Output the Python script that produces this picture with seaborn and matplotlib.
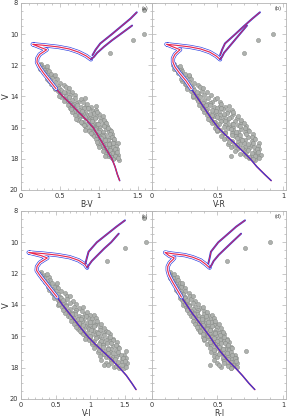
#!/usr/bin/env python3
"""Four-panel colour-magnitude diagram: V against B-V, V-R, V-I and R-I."""

import matplotlib
matplotlib.use("Agg")
import matplotlib.pyplot as plt
import matplotlib.patheffects as pe
from matplotlib.ticker import MultipleLocator, FuncFormatter
import pandas as pd
import seaborn as sns

# ---- observed stars (V magnitude shared, one colour list per panel) ----
V_star = [
    11.92, 12.00, 12.08, 12.15, 12.22, 12.30, 12.38, 12.45,
    12.52, 12.58, 12.64, 12.70, 12.77, 12.84, 12.90, 12.97,
    13.02, 13.08, 13.13, 13.19, 13.25, 13.31, 13.37, 13.42, 13.48,
    13.53, 13.58, 13.63, 13.68, 13.73, 13.78, 13.83, 13.88, 13.93, 13.98,
    14.02, 14.06, 14.10, 14.15, 14.19, 14.24, 14.28, 14.33, 14.37, 14.41, 14.45, 14.49,
    14.52, 14.55, 14.59, 14.62, 14.66, 14.69, 14.73, 14.76, 14.80, 14.83, 14.87, 14.90, 14.94, 14.97,
    15.02, 15.05, 15.08, 15.12, 15.15, 15.18, 15.21, 15.25, 15.28, 15.31, 15.35, 15.38, 15.41, 15.45, 15.48,
    15.52, 15.55, 15.58, 15.62, 15.65, 15.68, 15.71, 15.75, 15.78, 15.81, 15.85, 15.88, 15.91, 15.95, 15.98,
    16.02, 16.05, 16.08, 16.12, 16.15, 16.18, 16.21, 16.25, 16.28, 16.31, 16.35, 16.38, 16.41, 16.45, 16.48,
    16.52, 16.56, 16.60, 16.64, 16.68, 16.72, 16.76, 16.80, 16.84, 16.88, 16.92, 16.96, 16.99,
    17.03, 17.07, 17.11, 17.15, 17.19, 17.23, 17.27, 17.31, 17.35, 17.39, 17.43, 17.47,
    17.53, 17.58, 17.63, 17.68, 17.73, 17.78, 17.84, 17.90, 17.97, 18.05,
    8.48, 9.96, 10.39, 11.20,
    # second pass through the band
    12.05, 12.26, 12.60, 12.88, 13.22, 13.45, 13.70, 13.95, 14.12, 14.30,
    14.47, 14.57, 14.64, 14.71, 14.79, 14.85, 14.92, 15.00, 15.10, 15.16,
    15.23, 15.30, 15.37, 15.43, 15.50, 15.57, 15.63, 15.70, 15.77, 15.83,
    15.90, 15.97, 16.03, 16.10, 16.17, 16.23, 16.30, 16.36, 16.43, 16.50,
    16.58, 16.66, 16.74, 16.82, 16.90, 16.98, 17.05, 17.13, 17.21, 17.29,
    17.37, 17.45, 17.55, 17.62, 17.70, 17.80, 17.88, 17.95, 18.00, 17.85,
]
BV_star = [
    0.26, 0.24, 0.30, 0.27, 0.34, 0.29, 0.36, 0.31,
    0.30, 0.38, 0.33, 0.42, 0.35, 0.40, 0.46, 0.37,
    0.36, 0.44, 0.50, 0.40, 0.55, 0.47, 0.42, 0.58, 0.49,
    0.44, 0.52, 0.60, 0.48, 0.66, 0.56, 0.50, 0.63, 0.70, 0.58,
    0.52, 0.62, 0.70, 0.56, 0.77, 0.66, 0.59, 0.74, 0.80, 0.63, 0.71, 0.68,
    0.60, 0.72, 0.84, 0.66, 0.90, 0.77, 0.63, 0.81, 0.70, 0.87, 0.75, 0.93, 0.68, 0.83,
    0.66, 0.80, 0.94, 0.72, 1.00, 0.86, 0.70, 0.90, 0.78, 0.97, 0.84, 1.03, 0.75, 0.92, 0.88,
    0.74, 0.88, 1.02, 0.80, 1.08, 0.94, 0.78, 0.98, 0.85, 1.05, 0.92, 1.11, 0.83, 1.00, 0.96,
    0.84, 0.97, 1.10, 0.89, 1.15, 1.02, 0.87, 1.06, 0.93, 1.13, 1.00, 1.17, 0.91, 1.08, 1.04,
    0.94, 1.05, 1.15, 0.99, 1.19, 1.09, 0.97, 1.12, 1.02, 1.20, 1.07, 1.25, 1.14,
    0.99, 1.09, 1.18, 1.03, 1.22, 1.13, 1.01, 1.16, 1.07, 1.24, 1.11, 1.20,
    1.06, 1.15, 1.22, 1.10, 1.25, 1.18, 1.12, 1.24, 1.20, 1.26,
    1.58, 1.58, 1.44, 1.14,
    0.33, 0.25, 0.44, 0.33, 0.38, 0.62, 0.55, 0.49, 0.82, 0.55,
    0.85, 0.65, 0.96, 0.86, 0.64, 0.97, 0.79, 0.98, 0.89, 0.76,
    1.05, 0.82, 0.95, 0.71, 1.07, 0.91, 0.77, 1.10, 0.99, 0.81,
    1.07, 0.90, 1.12, 0.95, 0.82, 1.16, 1.01, 0.90, 1.14, 0.98,
    1.17, 1.03, 1.20, 1.08, 0.98, 1.18, 1.13, 1.05, 1.19, 1.09,
    1.21, 1.14, 1.23, 1.17, 1.13, 1.21, 1.16, 1.25, 1.19, 1.08,
]
VR_star = [
    0.17, 0.16, 0.20, 0.18, 0.22, 0.19, 0.23, 0.21,
    0.20, 0.25, 0.22, 0.28, 0.23, 0.26, 0.30, 0.24,
    0.23, 0.28, 0.32, 0.25, 0.35, 0.30, 0.27, 0.37, 0.31,
    0.27, 0.32, 0.38, 0.30, 0.42, 0.35, 0.31, 0.40, 0.45, 0.36,
    0.31, 0.37, 0.43, 0.34, 0.48, 0.40, 0.36, 0.46, 0.52, 0.39, 0.44, 0.42,
    0.36, 0.44, 0.52, 0.40, 0.56, 0.47, 0.38, 0.50, 0.42, 0.54, 0.46, 0.58, 0.41, 0.51,
    0.40, 0.48, 0.57, 0.44, 0.62, 0.52, 0.42, 0.55, 0.47, 0.60, 0.51, 0.65, 0.45, 0.58, 0.54,
    0.44, 0.53, 0.63, 0.48, 0.68, 0.57, 0.46, 0.61, 0.51, 0.66, 0.56, 0.72, 0.50, 0.62, 0.59,
    0.48, 0.58, 0.68, 0.52, 0.73, 0.62, 0.50, 0.66, 0.56, 0.71, 0.61, 0.77, 0.54, 0.67, 0.64,
    0.53, 0.63, 0.73, 0.57, 0.78, 0.68, 0.55, 0.71, 0.61, 0.76, 0.66, 0.82, 0.70,
    0.58, 0.67, 0.76, 0.62, 0.81, 0.71, 0.60, 0.74, 0.65, 0.82, 0.70, 0.79,
    0.63, 0.72, 0.80, 0.67, 0.83, 0.76, 0.60, 0.81, 0.74, 0.79,
    None, 0.926, 0.81, 0.70,
    0.21, 0.17, 0.28, 0.22, 0.26, 0.39, 0.34, 0.31, 0.50, 0.35,
    0.53, 0.41, 0.59, 0.53, 0.39, 0.61, 0.49, 0.62, 0.55, 0.46,
    0.66, 0.50, 0.59, 0.43, 0.68, 0.56, 0.47, 0.70, 0.62, 0.49,
    0.67, 0.55, 0.71, 0.60, 0.50, 0.74, 0.64, 0.56, 0.72, 0.61,
    0.76, 0.65, 0.79, 0.69, 0.59, 0.77, 0.73, 0.65, 0.78, 0.69,
    0.80, 0.73, 0.81, 0.76, 0.70, 0.79, 0.74, 0.82, 0.77, 0.72,
]
VI_star = [
    0.29, 0.27, 0.34, 0.31, 0.40, 0.33, 0.42, 0.37,
    0.35, 0.45, 0.39, 0.50, 0.41, 0.48, 0.54, 0.44,
    0.41, 0.50, 0.57, 0.46, 0.63, 0.54, 0.48, 0.66, 0.56,
    0.48, 0.57, 0.67, 0.53, 0.75, 0.62, 0.55, 0.71, 0.79, 0.65,
    0.54, 0.65, 0.76, 0.59, 0.84, 0.71, 0.62, 0.80, 0.88, 0.68, 0.78, 0.74,
    0.64, 0.78, 0.92, 0.71, 0.99, 0.84, 0.68, 0.88, 0.76, 0.96, 0.82, 1.02, 0.73, 0.90,
    0.72, 0.88, 1.03, 0.80, 1.10, 0.95, 0.77, 0.99, 0.85, 1.07, 0.92, 1.14, 0.82, 1.02, 0.97,
    0.82, 0.98, 1.14, 0.89, 1.22, 1.05, 0.86, 1.10, 0.95, 1.19, 1.02, 1.28, 0.92, 1.13, 1.08,
    0.94, 1.10, 1.26, 1.00, 1.33, 1.17, 0.98, 1.22, 1.06, 1.30, 1.14, 1.38, 1.03, 1.24, 1.19,
    1.02, 1.18, 1.33, 1.08, 1.40, 1.25, 1.06, 1.30, 1.14, 1.37, 1.21, 1.52, 1.28,
    1.11, 1.26, 1.40, 1.17, 1.48, 1.33, 1.14, 1.37, 1.22, 1.51, 1.30, 1.45,
    1.15, 1.30, 1.45, 1.22, 1.53, 1.38, 1.20, 1.50, 1.34, 1.48,
    1.77, 1.80, 1.50, 1.245,
    0.38, 0.30, 0.52, 0.39, 0.45, 0.70, 0.61, 0.55, 0.90, 0.60,
    0.95, 0.73, 1.06, 0.94, 0.70, 1.08, 0.87, 1.09, 0.99, 0.83,
    1.16, 0.90, 1.05, 0.79, 1.20, 1.01, 0.85, 1.25, 1.11, 0.89,
    1.20, 1.00, 1.28, 1.08, 0.93, 1.33, 1.16, 1.03, 1.30, 1.12,
    1.37, 1.19, 1.42, 1.26, 1.12, 1.40, 1.33, 1.20, 1.44, 1.27,
    1.47, 1.36, 1.50, 1.40, 1.30, 1.46, 1.37, 1.52, 1.42, 1.26,
]
RI_star = [
    0.14, 0.13, 0.16, 0.15, 0.19, 0.16, 0.20, 0.17,
    0.16, 0.21, 0.18, 0.23, 0.19, 0.22, 0.25, 0.20,
    0.18, 0.22, 0.25, 0.20, 0.28, 0.24, 0.21, 0.29, 0.25,
    0.21, 0.25, 0.30, 0.23, 0.33, 0.27, 0.24, 0.31, 0.35, 0.28,
    0.24, 0.28, 0.33, 0.26, 0.37, 0.31, 0.27, 0.35, 0.40, 0.30, 0.34, 0.32,
    0.28, 0.34, 0.40, 0.31, 0.43, 0.36, 0.30, 0.38, 0.33, 0.42, 0.35, 0.45, 0.32, 0.39,
    0.31, 0.38, 0.45, 0.35, 0.48, 0.41, 0.33, 0.43, 0.37, 0.47, 0.40, 0.50, 0.36, 0.44, 0.42,
    0.35, 0.42, 0.49, 0.38, 0.53, 0.45, 0.37, 0.48, 0.41, 0.51, 0.44, 0.55, 0.40, 0.49, 0.46,
    0.39, 0.46, 0.53, 0.42, 0.57, 0.49, 0.40, 0.52, 0.45, 0.55, 0.48, 0.59, 0.44, 0.53, 0.50,
    0.42, 0.50, 0.57, 0.45, 0.60, 0.53, 0.44, 0.56, 0.48, 0.59, 0.52, 0.72, 0.55,
    0.45, 0.52, 0.59, 0.48, 0.63, 0.55, 0.47, 0.58, 0.50, 0.64, 0.54, 0.61,
    0.47, 0.55, 0.62, 0.50, 0.65, 0.58, 0.44, 0.63, 0.53, 0.60,
    None, 0.90, 0.71, 0.575,
    0.17, 0.14, 0.23, 0.18, 0.21, 0.31, 0.27, 0.25, 0.39, 0.27,
    0.42, 0.32, 0.46, 0.41, 0.31, 0.47, 0.38, 0.48, 0.43, 0.36,
    0.51, 0.39, 0.46, 0.34, 0.53, 0.44, 0.37, 0.54, 0.48, 0.39,
    0.52, 0.43, 0.55, 0.47, 0.40, 0.57, 0.50, 0.44, 0.56, 0.48,
    0.58, 0.51, 0.61, 0.54, 0.47, 0.60, 0.57, 0.51, 0.61, 0.54,
    0.63, 0.58, 0.64, 0.60, 0.55, 0.62, 0.58, 0.65, 0.60, 0.51,
]

# ---- isochrone: main sequence -> turn-off -> hook -> subgiant -> giant branch ----
V_iso = [19.40, 19.00, 18.50, 18.00, 17.50, 17.00, 16.50, 16.00, 15.50, 15.00,
         14.50, 14.00, 13.50, 13.00, 12.50, 12.10, 11.80, 11.55, 11.30, 11.10,
         11.00, 10.85, 10.65, 10.72, 10.82, 10.95, 11.15, 11.40, 11.62, 11.45,
         11.20, 10.80, 10.40, 10.00, 9.45]
BV_iso = [1.27, 1.24, 1.21, 1.17, 1.11, 1.05, 0.99, 0.93, 0.84, 0.74,
          0.645, 0.54, 0.45, 0.37, 0.29, 0.235, 0.205, 0.21, 0.24, 0.30,
          0.33, 0.25, 0.15, 0.30, 0.48, 0.62, 0.74, 0.84, 0.90, 0.94,
          0.98, 1.07, 1.17, 1.28, 1.43]
VR_iso = [0.91, 0.86, 0.80, 0.75, 0.69, 0.63, 0.565, 0.505, 0.46, 0.42,
          0.38, 0.34, 0.30, 0.26, 0.21, 0.175, 0.16, 0.16, 0.175, 0.20,
          0.215, 0.17, 0.11, 0.19, 0.29, 0.37, 0.44, 0.49, 0.52, 0.535,
          0.55, 0.59, 0.63, 0.67, 0.725]
VI_iso = [1.66, 1.60, 1.52, 1.42, 1.31, 1.19, 1.07, 0.96, 0.87, 0.78,
          0.69, 0.60, 0.52, 0.43, 0.34, 0.27, 0.225, 0.23, 0.27, 0.34,
          0.38, 0.29, 0.11, 0.32, 0.53, 0.70, 0.83, 0.92, 0.955, 0.98,
          1.02, 1.11, 1.20, 1.30, 1.41]
RI_iso = [0.785, 0.74, 0.69, 0.635, 0.575, 0.525, 0.48, 0.44, 0.395, 0.35,
          0.305, 0.265, 0.225, 0.19, 0.155, 0.13, 0.12, 0.12, 0.135, 0.16,
          0.17, 0.13, 0.10, 0.15, 0.25, 0.31, 0.37, 0.41, 0.44, 0.455,
          0.47, 0.51, 0.56, 0.61, 0.68]

# second (brighter) giant branch
V_agb = [11.35, 11.00, 10.60, 10.00, 9.50, 9.00, 8.60]
BV_agb = [0.92, 0.96, 1.02, 1.17, 1.29, 1.41, 1.49]
VR_agb = [0.52, 0.535, 0.557, 0.636, 0.70, 0.767, 0.824]
VI_agb = [0.93, 0.95, 0.975, 1.094, 1.236, 1.378, 1.50]
RI_agb = [0.43, 0.44, 0.45, 0.506, 0.575, 0.643, 0.71]

RED = "#e8244e"
BLUE = "#2c3de0"
STAR_FACE = "#aeb1ae"
STAR_EDGE = "#858985"
AXIS_GREY = "#b4b4b4"

sns.set_style("ticks")
plt.rcParams["font.family"] = ["DejaVu Sans"]

fig = plt.figure(figsize=(2.87, 4.18), dpi=100)

panels = [
    # tag, box, star colours, iso colours, agb colours, xmax, xlabel, left column, red on top
    ("(a)", [0.0732, 0.5455, 0.4564, 0.4474], BV_star, BV_iso, BV_agb, 1.686, "B-V", True, True),
    ("(b)", [0.5296, 0.5455, 0.4669, 0.4474], VR_star, VR_iso, VR_agb, 1.023, "V-R", False, False),
    ("(c)", [0.0732, 0.0455, 0.4564, 0.4498], VI_star, VI_iso, VI_agb, 1.89, "V-I", True, False),
    ("(d)", [0.5296, 0.0455, 0.4669, 0.4498], RI_star, RI_iso, RI_agb, 1.023, "R-I", False, False),
]

outline = [pe.Stroke(linewidth=3.0, foreground=BLUE),
           pe.Stroke(linewidth=2.1, foreground="white"),
           pe.Normal()]


def draw_line(ax, df, color, lw, effects=None):
    sns.lineplot(data=df, x="c", y="V", sort=False, estimator=None,
                 color=color, linewidth=lw, ax=ax)
    line = ax.lines[-1]
    if effects:
        line.set_path_effects(effects)
    return line


for tag, box, star_col, iso_col, agb_col, xmax, xlabel, left, red_top in panels:
    ax = fig.add_axes(box)

    stars = pd.DataFrame({"c": star_col, "V": V_star}).dropna()
    sns.scatterplot(data=stars, x="c", y="V", s=9, color=STAR_FACE,
                    edgecolor=STAR_EDGE, linewidth=0.35, ax=ax, zorder=2)

    iso = pd.DataFrame({"c": iso_col, "V": V_iso})
    agb = pd.DataFrame({"c": agb_col, "V": V_agb})
    ms = iso.iloc[:14]
    upper = iso.iloc[12:29]
    giant = iso.iloc[28:]

    under, over = (BLUE, RED) if red_top else (RED, BLUE)
    draw_line(ax, ms, under, 1.1)
    draw_line(ax, ms, over, 0.8)
    draw_line(ax, upper, RED, 0.8, outline)
    for branch in (giant, agb):
        draw_line(ax, branch, BLUE, 1.4)
        draw_line(ax, branch, RED, 0.6)

    ax.set_xlim(0, xmax)
    ax.set_ylim(20, 8)
    ax.xaxis.set_major_locator(MultipleLocator(0.5))
    ax.xaxis.set_minor_locator(MultipleLocator(0.1))
    ax.yaxis.set_major_locator(MultipleLocator(2))
    ax.yaxis.set_minor_locator(MultipleLocator(0.5))
    ax.xaxis.set_major_formatter(FuncFormatter(lambda v, p: f"{v:g}"))
    ax.tick_params(which="both", direction="in", top=True, right=True,
                   color=AXIS_GREY, labelcolor="#333333", labelsize=4.8,
                   width=0.5, pad=2)
    ax.tick_params(which="major", length=3)
    ax.tick_params(which="minor", length=1.5)
    for sp in ax.spines.values():
        sp.set_color(AXIS_GREY)
        sp.set_linewidth(0.6)

    ax.set_xlabel(xlabel, fontsize=5.5, labelpad=1, color="#333333")
    if left:
        ax.set_ylabel("V", fontsize=6, color="#333333")
        ax.yaxis.set_label_coords(-0.078, 0.5)
    else:
        ax.set_ylabel("")
        ax.tick_params(labelleft=False)

    ax.text(0.97, 0.985, tag, transform=ax.transAxes, ha="right", va="top",
            fontsize=3.6, color="#333333")

fig.savefig("out.png", dpi=100)
